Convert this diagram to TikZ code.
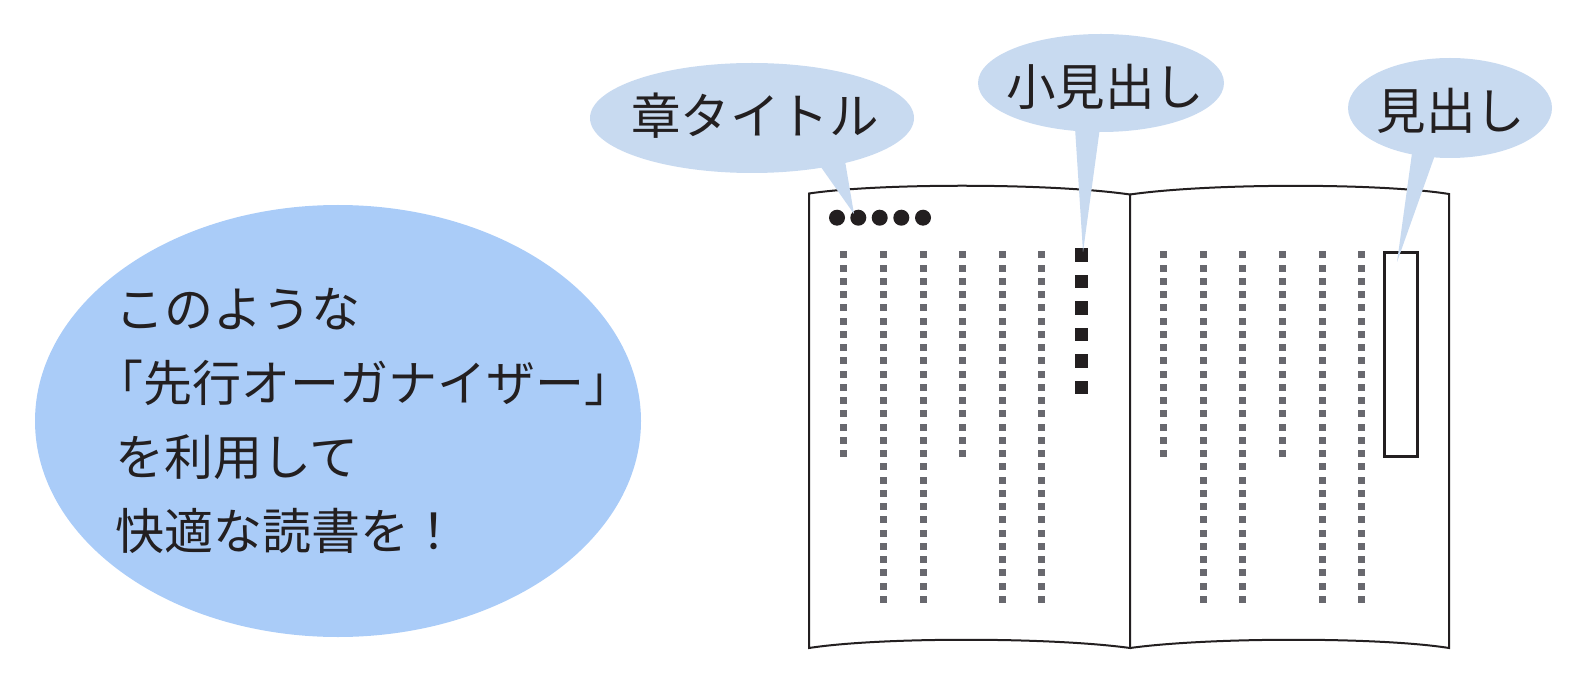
\documentclass[tikz,border=0pt]{standalone}
\usepackage{fontspec}
\newfontfamily\jp{Noto Sans CJK JP}
\usetikzlibrary{shapes.geometric}
\definecolor{callout}{RGB}{200,218,240}
\definecolor{bigblue}{RGB}{170,204,248}
\definecolor{dotgray}{RGB}{104,104,110}
\definecolor{ink}{RGB}{35,31,32}
\tikzset{
  bubbletext/.style={inner sep=0pt, text=ink, font=\jp\fontsize{49.5}{56}\selectfont},
  bubblefill/.style={fill=callout},
  tail/.style={fill=callout},
  pageline/.style={draw=ink, line width=2pt, line join=miter},
  graysq/.style={fill=dotgray},
  blacksq/.style={fill=ink},
}
\begin{document}
\begin{tikzpicture}[x=1pt,y=-1pt]
\useasboundingbox (0,0) rectangle (1586,684);
% big ellipse with message
\node[ellipse, fill=bigblue, minimum width=606pt, minimum height=432pt, inner sep=0pt] (bigell) at (338,421) {};
\node[anchor=west, align=left, inner sep=0pt, text=ink, font=\jp\fontsize{49}{74}\selectfont] (msg) at (115,421.3)
  {このような\\\hspace*{-0.42em}「先行オーガナイザー」\\を利用して\\快適な読書を！};
% book
\draw[pageline] (809,193.5) .. controls (880,183) and (1050,183) .. (1130,194.5) -- (1130,648)
  .. controls (1050,637) and (880,637) .. (809,648) -- cycle;
\draw[pageline] (1130,194.5) .. controls (1210,183) and (1380,183) .. (1449,194) -- (1449,648)
  .. controls (1380,637) and (1210,637) .. (1130,648);
% chapter title dots
\foreach \x in {837,858.3,879.7,901.3,923} \fill[blacksq] (\x,217.7) circle[radius=8pt];
% gray text columns
\foreach \cx/\nr in {843.7/16, 883.3/27, 923/27, 962.7/16, 1002.3/27, 1041.7/27,
                     1163.7/16, 1203.3/27, 1242.9/27, 1282.5/16, 1322.1/27, 1361.7/27} {
  \foreach \k in {1,...,\nr} {
    \fill[graysq] ({\cx-3.5},{255+13.24*(\k-1)-3.5}) rectangle ++(7,7);
  }
}
% small heading squares
\foreach \k in {0,...,5} \fill[blacksq] ({1081.7-6.75},{255+26.5*\k-6.75}) rectangle ++(13.5,13.5);
% heading rectangle
\draw[draw=ink, line width=3pt] (1384.8,252.2) rectangle (1417.2,456.2);
% callout bodies
\coordinate (ctc) at (752,118);
\coordinate (csc) at (1101,83);
\coordinate (chc) at (1450,108);
\fill[bubblefill] (ctc) ellipse[x radius=162pt, y radius=55pt];
\fill[bubblefill] (csc) ellipse[x radius=123pt, y radius=49pt];
\fill[bubblefill] (chc) ellipse[x radius=102pt, y radius=50pt];
% callout tails
\coordinate (tA1) at (816,160);
\coordinate (tA2) at (844,155);
\coordinate (tipA) at (854,214);
\coordinate (tB1) at (1074.5,120);
\coordinate (tB2) at (1101,120);
\coordinate (tipB) at (1083,252);
\coordinate (tC1) at (1412.7,148);
\coordinate (tC2) at (1437.5,148);
\coordinate (tipC) at (1397,262);
\fill[tail] (tA1) -- (tA2) -- (tipA) -- cycle;
\fill[tail] (tB1) -- (tB2) -- (tipB) -- cycle;
\fill[tail] (tC1) -- (tC2) -- (tipC) -- cycle;
% callout labels
\node[bubbletext] (ct) at (755,116) {章タイトル};
\node[bubbletext] (cs) at (1105,86.5) {小見出し};
\node[bubbletext] (ch) at (1451,110.5) {見出し};
\end{tikzpicture}
\end{document}
